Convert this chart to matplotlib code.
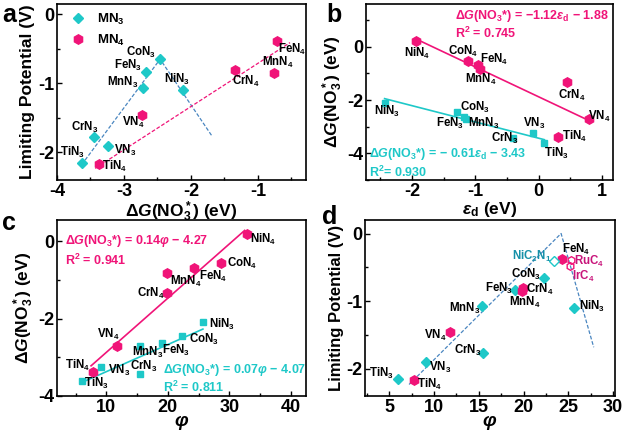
import matplotlib
matplotlib.use("Agg")
import matplotlib.pyplot as plt
from matplotlib.ticker import AutoMinorLocator, MultipleLocator

plt.rcParams['font.family'] = ['Liberation Sans', 'DejaVu Sans']
plt.rcParams['font.weight'] = 'bold'
plt.rcParams['axes.labelweight'] = 'bold'
plt.rcParams['axes.unicode_minus'] = False
plt.rcParams['mathtext.fontset'] = 'custom'
plt.rcParams['mathtext.rm'] = 'Liberation Sans:bold'
plt.rcParams['mathtext.bf'] = 'Liberation Sans:bold'
plt.rcParams['mathtext.it'] = 'Liberation Sans:bold:italic'
plt.rcParams['mathtext.default'] = 'rm'
plt.rcParams['mathtext.fallback'] = 'stixsans'

# ---- data ----
metals = ["Ti", "V", "Cr", "Mn", "Fe", "Co", "Ni"]
mn3_names = [m + "N$_3$" for m in metals]
mn4_names = [m + "N$_4$" for m in metals]

# limiting potentials (panel a, d)
ul_mn3 = [-2.15, -1.90, -1.77, -1.07, -0.83, -0.65, -1.10]
ul_mn4 = [-2.16, -1.46, -0.80, -0.85, -0.38]          # Ti..Fe
# dG(NO3*) as read in panel a
dg_a_mn3 = [-3.63, -3.24, -3.44, -2.71, -2.67, -2.46, -2.12]
dg_a_mn4 = [-3.37, -2.73, -1.34, -0.76, -0.72]

# panel b/c
dg_mn3 = [-3.62, -3.24, -3.43, -2.70, -2.63, -2.45, -2.10]
dg_mn4 = [-3.37, -2.72, -1.33, -0.83, -0.70, -0.55, 0.20]
eps_mn3 = [0.09, -0.09, -0.40, -1.15, -1.18, -1.29, -2.43]
eps_mn4 = [0.30, 0.80, 0.45, -0.93, -0.95, -1.11, -1.93]
phi_mn3 = [6.0, 9.1, 15.5, 15.4, 19.0, 22.3, 25.7]
phi_mn4 = [7.8, 11.8, 19.9, 19.8, 24.3, 28.6, 32.8]

# other catalysts (panel d)
other_names = ["NiC$_2$N$_1$", "RuC$_4$", "IrC$_4$"]
other_phi = [23.4, 25.3, 25.2]
other_ul = [-0.41, -0.39, -0.48]

# volcano / guide lines
vol_a_x = [-3.58, -2.46, -1.68]
vol_a_y = [-2.11, -0.65, -1.77]
lin_a_x = [-3.43, -0.52]
lin_a_y = [-2.23, -0.41]
vol_d_x = [7.2, 24.2, 27.85]
vol_d_y = [-2.23, 0.0, -1.68]

# fits
fit_b4 = (-1.12, -1.88)
fit_b3 = (-0.61, -3.43)
fit_c4 = (0.14, -4.27)
fit_c3 = (0.07, -4.07)

cyan = '#1EC8C8'
pink = '#F01478'
blue = '#4A86C0'

fig = plt.figure(figsize=(6.26, 4.33), dpi=100)
axa = fig.add_axes([0.091, 0.584, 0.398, 0.407])
axb = fig.add_axes([0.585, 0.584, 0.395, 0.407])
axc = fig.add_axes([0.0915, 0.0855, 0.3975, 0.4065])
axd = fig.add_axes([0.5835, 0.0855, 0.3985, 0.4065])

lab_fs = 8.3
tick_fs = 13
axlab_fs = 12.5
eq_fs = 9


def label_points(ax, xs, ys, names, offs, color='black'):
    for x, y, n, o in zip(xs, ys, names, offs):
        ax.annotate(n, (x, y), xytext=o, textcoords='offset pixels',
                    ha='center', va='center', fontsize=lab_fs,
                    fontweight='bold', color=color)


def style(ax):
    for s in ax.spines.values():
        s.set_linewidth(1.2)
    ax.tick_params(direction='in', which='both', labelsize=tick_fs, width=1.0, pad=2)
    ax.tick_params(which='major', length=3.5)
    ax.tick_params(which='minor', length=2)
    ax.xaxis.set_minor_locator(AutoMinorLocator(2))
    ax.yaxis.set_minor_locator(AutoMinorLocator(2))
    for t in ax.get_xticklabels() + ax.get_yticklabels():
        t.set_fontweight('bold')


dashed = (0, (3, 1.5))

# ---- panel a ----
axa.plot(vol_a_x, vol_a_y, color=blue, lw=0.9, ls=dashed)
axa.plot(lin_a_x, lin_a_y, color=pink, lw=0.9, ls=dashed)
axa.plot(dg_a_mn3, ul_mn3, 'D', color=cyan, ms=5.5, ls='none', label='MN$_3$')
axa.plot(dg_a_mn4, ul_mn4, 'h', color=pink, ms=6.8, ls='none', label='MN$_4$')
label_points(axa, dg_a_mn3, ul_mn3, mn3_names,
             [(-9, 10), (17, -5), (-10, 9), (-21, 6), (-18, 6), (-19, 7), (-6, 11)])
label_points(axa, dg_a_mn4, ul_mn4, mn4_names[:5],
             [(15, -3), (-9, -7), (11, -12), (4, 11), (15, -9)])
axa.legend(loc='upper left', frameon=False, fontsize=9.5, handletextpad=0.4,
           borderaxespad=0.2, labelspacing=0.45)
axa.set_xlim(-4, -0.28)
axa.set_ylim(-2.4, 0.15)
axa.xaxis.set_major_locator(MultipleLocator(1))
axa.yaxis.set_major_locator(MultipleLocator(1))
axa.set_xlabel(r'$\Delta\mathit{G}$(NO$_3^*$) (eV)', fontsize=axlab_fs, labelpad=0)
axa.set_ylabel('Limiting Potential (V)', fontsize=axlab_fs, labelpad=2)
style(axa)

# ---- panel b ----
xs = [min(eps_mn4), max(eps_mn4)]
axb.plot(xs, [fit_b4[0] * x + fit_b4[1] for x in xs], color=pink, lw=1.2)
xs = [min(eps_mn3), max(eps_mn3)]
axb.plot(xs, [fit_b3[0] * x + fit_b3[1] for x in xs], color=cyan, lw=1.2)
axb.plot(eps_mn4, dg_mn4, 'h', color=pink, ms=6.8, ls='none')
axb.plot(eps_mn3, dg_mn3, 's', color=cyan, ms=5, ls='none')
label_points(axb, eps_mn4, dg_mn4, mn4_names,
             [(17, 0), (10, 3), (5, -13), (1, -11), (16, 6), (-5, 10), (1, -12)])
label_points(axb, eps_mn3, dg_mn3, mn3_names,
             [(12, -10), (1, 10), (-9, 0), (18, -5), (-14, -7), (18, 5), (2, -9)])
axb.text(0.36, 0.93, r'$\Delta\mathit{G}$(NO$_3$*) = −1.12$\mathit{\varepsilon}_\mathrm{d}$ − 1.88',
         transform=axb.transAxes, color=pink, fontsize=eq_fs, va='center')
axb.text(0.36, 0.83, 'R$^2$ = 0.745', transform=axb.transAxes, color=pink,
         fontsize=eq_fs, va='center')
axb.text(0.01, 0.15, r'$\Delta\mathit{G}$(NO$_3$*) = − 0.61$\mathit{\varepsilon}_\mathrm{d}$ − 3.43',
         transform=axb.transAxes, color=cyan, fontsize=eq_fs, va='center')
axb.text(0.01, 0.045, 'R$^2$= 0.930', transform=axb.transAxes, color=cyan,
         fontsize=eq_fs, va='center')
axb.set_xlim(-2.72, 1.18)
axb.set_ylim(-5, 1.6)
axb.xaxis.set_major_locator(MultipleLocator(1))
axb.yaxis.set_major_locator(MultipleLocator(2))
axb.set_xlabel(r'$\mathit{\varepsilon}_\mathrm{d}$ (eV)', fontsize=axlab_fs, labelpad=0)
axb.set_ylabel(r'$\Delta\mathit{G}$(NO$_3^*$) (eV)', fontsize=axlab_fs, labelpad=2)
style(axb)

# ---- panel c ----
xs = [min(phi_mn4) - 0.3, max(phi_mn4) - 0.3]
axc.plot(xs, [fit_c4[0] * x + fit_c4[1] for x in xs], color=pink, lw=1.2)
xs = [min(phi_mn3), max(phi_mn3)]
axc.plot(xs, [fit_c3[0] * x + fit_c3[1] for x in xs], color=cyan, lw=1.2)
axc.plot(phi_mn4, dg_mn4, 'h', color=pink, ms=6.8, ls='none')
axc.plot(phi_mn3, dg_mn3, 's', color=cyan, ms=5, ls='none')
label_points(axc, phi_mn4, dg_mn4, mn4_names,
             [(-15, 6), (-9, 12), (-16, -1), (19, -8), (19, -8), (21, -1), (17, -6)])
label_points(axc, phi_mn3, dg_mn3, mn3_names,
             [(15, -2), (18, -4), (3, 7), (8, -7), (14, -7), (22, -3), (19, -2)])
axc.text(0.03, 0.88, r'$\Delta\mathit{G}$(NO$_3$*) = 0.14$\mathit{\varphi}$ − 4.27',
         transform=axc.transAxes, color=pink, fontsize=eq_fs, va='center')
axc.text(0.03, 0.77, 'R$^2$ = 0.941', transform=axc.transAxes, color=pink,
         fontsize=eq_fs, va='center')
axc.text(0.425, 0.148, r'$\Delta\mathit{G}$(NO$_3$*) = 0.07$\mathit{\varphi}$ − 4.07',
         transform=axc.transAxes, color=cyan, fontsize=eq_fs, va='center')
axc.text(0.425, 0.047, 'R$^2$ = 0.811', transform=axc.transAxes, color=cyan,
         fontsize=eq_fs, va='center')
axc.set_xlim(2, 42.5)
axc.set_ylim(-4, 0.55)
axc.xaxis.set_major_locator(MultipleLocator(10))
axc.yaxis.set_major_locator(MultipleLocator(2))
axc.set_xlabel(r'$\mathit{\varphi}$', fontsize=14, labelpad=-2)
axc.set_ylabel(r'$\Delta\mathit{G}$(NO$_3^*$) (eV)', fontsize=axlab_fs, labelpad=2)
style(axc)

# ---- panel d ----
axd.plot(vol_d_x, vol_d_y, color=blue, lw=0.9, ls=dashed)
axd.plot(phi_mn3, ul_mn3, 'D', color=cyan, ms=5.5, ls='none')
axd.plot(phi_mn4[:5], ul_mn4, 'h', color=pink, ms=6.8, ls='none')
axd.plot(other_phi[:1], other_ul[:1], 'D', mfc='white', mec=cyan, mew=1.0,
         ms=5.5, ls='none')
axd.plot(other_phi[1:], other_ul[1:], 'h', mfc='none', mec=pink, mew=1.0,
         ms=5.5, ls='none')
label_points(axd, phi_mn3, ul_mn3, mn3_names,
             [(-17, 6), (14, -5), (-16, 3), (-18, -3), (-16, 1), (-18, 3), (18, 2)])
label_points(axd, phi_mn4[:5], ul_mn4, mn4_names[:5],
             [(15, -5), (-15, -3), (17, -2), (3, -11), (14, 10)])
label_points(axd, other_phi[:1], other_ul[:1], other_names[:1], [(-22, 5)],
             color='#1590A8')
label_points(axd, other_phi[1:], other_ul[1:], other_names[1:],
             [(18, -2), (13, -10)], color='#C8147A')
axd.set_xlim(2.3, 30.2)
axd.set_ylim(-2.4, 0.2)
axd.xaxis.set_major_locator(MultipleLocator(5))
axd.yaxis.set_major_locator(MultipleLocator(1))
axd.set_xlabel(r'$\mathit{\varphi}$', fontsize=14, labelpad=-2)
axd.set_ylabel('Limiting Potential (V)', fontsize=12, labelpad=2)
style(axd)

for t, x, y in [('a', 0.003, 0.965), ('b', 0.522, 0.965),
                ('c', 0.003, 0.485), ('d', 0.515, 0.5)]:
    fig.text(x, y, t, fontsize=18, fontweight='bold', va='center')

fig.savefig('out.png', dpi=100)
